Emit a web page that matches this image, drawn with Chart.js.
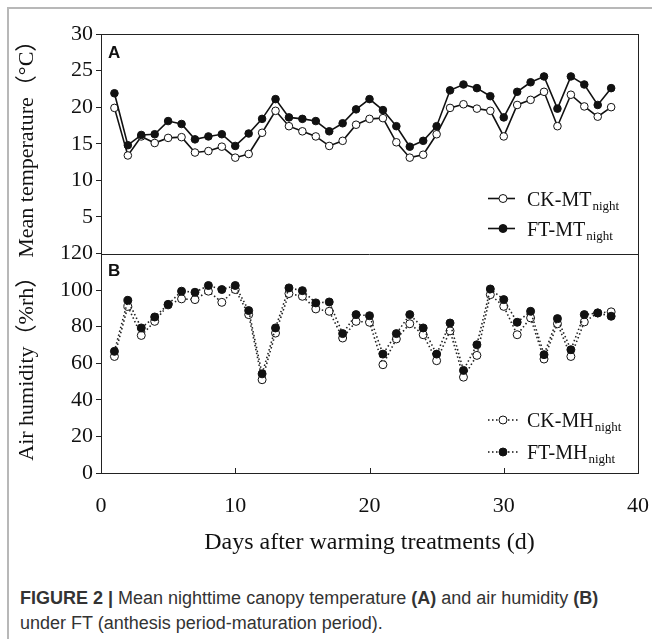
<!DOCTYPE html>
<html>
<head>
<meta charset="utf-8">
<script src="https://cdn.jsdelivr.net/npm/chart.js@4.4.0/dist/chart.umd.min.js"></script>
<style>
  html, body { margin: 0; padding: 0; background: #fff; }
  #wrap { position: relative; width: 652px; height: 639px; overflow: hidden; }
  #frame { position: absolute; left: 7px; top: 7px; width: 700px; height: 700px;
           border-left: 2px solid #b8b8b8; border-top: 2px solid #b8b8b8; }
  #c { position: absolute; left: 0; top: 0; }
  #cap { position: absolute; left: 20px; top: 586px; color: #333;
         font-family: "Liberation Sans", Arial, sans-serif; font-size: 18px; line-height: 25px; }
</style>
</head>
<body>
<div id="wrap">
  <div id="frame"></div>
  <canvas id="c" width="652" height="570"></canvas>
  <div id="cap"><b>FIGURE 2 |</b> Mean nighttime canopy temperature <b>(A)</b> and air humidity <b>(B)</b><br>under FT (anthesis period-maturation period).</div>
</div>
<script>
// days after warming treatments
const days = [1,2,3,4,5,6,7,8,9,10,11,12,13,14,15,16,17,18,19,20,21,22,23,24,25,26,27,28,29,30,31,32,33,34,35,36,37,38];

// panel A: mean night temperature (°C)
const ckMT = [19.9,13.4,16.0,15.1,15.8,15.9,13.8,14.0,14.6,13.1,13.6,16.5,19.5,17.4,16.7,16.0,14.7,15.4,17.6,18.4,
              18.5,15.2,13.1,13.5,16.3,19.9,20.4,19.8,19.5,16.0,20.3,21.0,22.1,17.4,21.7,20.1,18.7,20.0];
const ftMT = [21.9,14.8,16.2,16.3,18.1,17.7,15.6,16.0,16.3,14.7,16.4,18.4,21.1,18.6,18.4,18.1,16.7,17.8,19.7,21.1,
              19.6,17.4,14.6,15.4,17.4,22.3,23.1,22.6,21.5,18.6,22.1,23.4,24.2,19.8,24.2,23.1,20.3,22.6];

// panel B: air humidity (%rh)
const ckMH = [63.7,91.1,75.2,82.9,91.9,95.2,94.8,99.4,93.3,100.3,86.6,51.0,76.5,98.1,96.6,89.7,88.4,73.8,82.9,82.4,
              59.2,73.3,81.6,75.6,61.4,77.7,52.4,64.3,97.5,91.1,75.6,84.8,62.3,81.6,63.7,82.6,87.5,88.1];
const ftMH = [66.5,94.4,79.3,85.3,92.2,99.4,98.8,102.5,100.3,102.5,88.8,54.2,79.3,101.2,99.7,93.0,93.5,76.2,86.6,86.0,
              65.0,76.2,86.6,79.3,65.0,82.0,56.1,70.1,100.6,94.8,82.4,88.4,64.7,84.4,67.4,86.6,87.5,85.7];

const xTicks = [0, 10, 20, 30, 40];
const serif = '"Liberation Serif", "Times New Roman", serif';

function pts(vals) {
  return days.map((d, i) => ({ x: d, y: vals[i] }));
}

function drawLegendRow(ctx, x0, y, main, sub, filled, dotted) {
  ctx.save();
  ctx.strokeStyle = '#111';
  ctx.lineWidth = 1.6;
  if (dotted) ctx.setLineDash([1.5, 2.5]);
  ctx.beginPath();
  ctx.moveTo(x0, y);
  ctx.lineTo(x0 + (dotted ? 30 : 27), y);
  ctx.stroke();
  ctx.setLineDash([]);
  ctx.beginPath();
  ctx.arc(x0 + 15, y, 4, 0, Math.PI * 2);
  ctx.fillStyle = filled ? '#111' : '#fff';
  ctx.fill();
  ctx.lineWidth = 1;
  ctx.stroke();
  ctx.fillStyle = '#111';
  ctx.textBaseline = 'alphabetic';
  ctx.font = '20px ' + serif;
  ctx.fillText(main, x0 + 39, y + 7);
  const w = ctx.measureText(main).width;
  ctx.font = '13px ' + serif;
  ctx.fillText(sub, x0 + 40 + w, y + 11);
  ctx.restore();
}

const framePlugin = {
  id: 'frame',
  afterDatasetsDraw(chart) {
    const { ctx, chartArea: a, scales } = chart;
    const mid = scales.yA.bottom;
    ctx.save();
    ctx.strokeStyle = '#222';
    ctx.lineWidth = 1;
    ctx.strokeRect(a.left + 0.5, a.top + 0.5, a.right - a.left, a.bottom - a.top);
    ctx.beginPath();
    ctx.moveTo(a.left, Math.round(mid) + 0.5);
    ctx.lineTo(a.right, Math.round(mid) + 0.5);
    ctx.stroke();
    // inward ticks on the bottom axis
    xTicks.forEach(v => {
      const px = Math.round(scales.x.getPixelForValue(v)) + 0.5;
      ctx.beginPath();
      ctx.moveTo(px, a.bottom);
      ctx.lineTo(px, a.bottom - 5);
      ctx.stroke();
    });
    // panel letters
    ctx.fillStyle = '#111';
    ctx.font = 'bold 17px "Liberation Sans", Arial, sans-serif';
    ctx.fillText('A', a.left + 7, a.top + 24);
    ctx.fillText('B', a.left + 7, mid + 22);
    ctx.restore();
    // legends
    const lx = a.right - 150;
    drawLegendRow(ctx, lx, mid - 55, 'CK-MT', 'night', false, false);
    drawLegendRow(ctx, lx, mid - 25, 'FT-MT', 'night', true, false);
    drawLegendRow(ctx, lx, a.bottom - 53, 'CK-MH', 'night', false, true);
    drawLegendRow(ctx, lx, a.bottom - 21, 'FT-MH', 'night', true, true);
  }
};

function yScale(min, max, step, title, weight, hideZero) {
  return {
    type: 'linear',
    position: 'left',
    stack: 'panels',
    stackWeight: 1,
    weight: weight,
    min: min,
    max: max,
    border: { display: false },
    grid: { drawOnChartArea: false, drawTicks: true, tickLength: 5, color: '#222', tickColor: '#222' },
    ticks: {
      stepSize: step,
      autoSkip: false,
      padding: 3,
      color: '#111',
      font: { family: serif, size: 22 },
      callback: v => (hideZero && v === 0) ? '' : v
    },
    title: { display: true, text: title, color: '#111', padding: { top: 9, bottom: 0 },
             font: { family: serif + ', "Noto Sans CJK SC"', size: 22 } },
    afterFit(s) { s.width = 96; }
  };
}

new Chart(document.getElementById('c'), {
  type: 'line',
  data: {
    datasets: [
      { label: 'FT-MTnight', data: pts(ftMT), xAxisID: 'x', yAxisID: 'yA', order: 0,
        borderColor: '#111', borderWidth: 1.6, pointRadius: 3.8, pointBackgroundColor: '#111',
        pointBorderColor: '#111', pointBorderWidth: 1 },
      { label: 'CK-MTnight', data: pts(ckMT), xAxisID: 'x', yAxisID: 'yA', order: 1,
        borderColor: '#111', borderWidth: 1.6, pointRadius: 3.8, pointBackgroundColor: '#fff',
        pointBorderColor: '#111', pointBorderWidth: 1 },
      { label: 'FT-MHnight', data: pts(ftMH), xAxisID: 'x', yAxisID: 'yB', order: 2,
        borderColor: '#222', borderWidth: 1.6, borderDash: [1.5, 2.5], pointRadius: 4,
        pointBackgroundColor: '#111', pointBorderColor: '#111', pointBorderWidth: 1 },
      { label: 'CK-MHnight', data: pts(ckMH), xAxisID: 'x', yAxisID: 'yB', order: 3,
        borderColor: '#222', borderWidth: 1.6, borderDash: [1.5, 2.5], pointRadius: 4,
        pointBackgroundColor: '#fff', pointBorderColor: '#111', pointBorderWidth: 1 }
    ]
  },
  options: {
    responsive: false,
    animation: false,
    layout: { padding: { left: 5, top: 34, right: 14, bottom: 0 } },
    plugins: { legend: { display: false }, tooltip: { enabled: false } },
    scales: {
      x: {
        type: 'linear',
        min: 0, max: 40,
        border: { display: false },
        grid: { display: false, drawTicks: false },
        ticks: { stepSize: 10, autoSkip: false, padding: 20, color: '#111', font: { family: serif, size: 22 } },
        title: { display: true, text: 'Days after warming treatments (d)', color: '#111',
                 padding: { top: 0, bottom: 13 }, font: { family: serif, size: 24 } },
        afterFit(s) { s.height = 97; s.paddingRight = 0; s.paddingLeft = 0; }
      },
      yA: yScale(0, 30, 5, 'Mean temperature（°C）', 2, true),
      yB: yScale(0, 120, 20, 'Air humidity（%rh）', 1, false)
    }
  },
  plugins: [framePlugin]
});
</script>
</body>
</html>
